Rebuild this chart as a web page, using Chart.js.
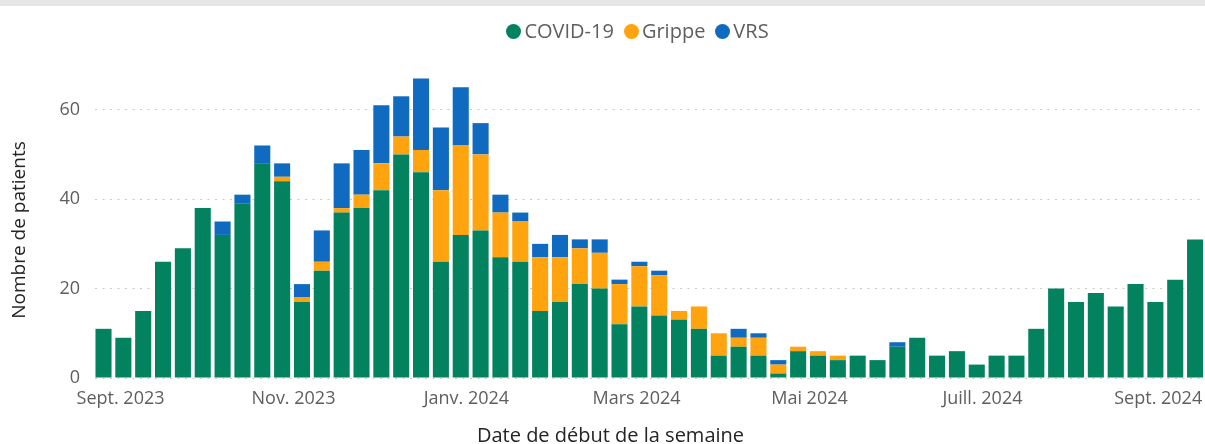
<!DOCTYPE html>
<html>
<head>
<meta charset="utf-8">
<script src="https://cdn.jsdelivr.net/npm/chart.js@4.4.1/dist/chart.umd.min.js"></script>
<style>
  body { margin: 0; background: #fff; font-family: 'Segoe UI', 'Open Sans', sans-serif; }
  #band { height: 6px; background: #e6e6e6; }
  #wrap { position: relative; width: 1205px; height: 438px; }
  #legend { position: absolute; top: 13px; left: 0; width: 1205px; display: flex; justify-content: center;
            padding-left: 70px; box-sizing: border-box; font-size: 20px; color: #605e5c; line-height: 24px; }
  #legend span.item { display: flex; align-items: center; margin: 0 5px; }
  #legend span.dot { width: 15px; height: 15px; border-radius: 50%; margin-right: 3px; }
  #xtitle { position: absolute; top: 423px; left: 8px; width: 1205px; text-align: center;
            font-size: 20px; color: #252423; line-height: 24px; }
  #ytitle { position: absolute; left: -82px; top: 218px; width: 200px; text-align: center;
            font-size: 19px; color: #252423; line-height: 24px; transform: rotate(-90deg); white-space: nowrap; }
</style>
</head>
<body>
<div id="band"></div>
<div id="wrap">
  <canvas id="chart"></canvas>
  <div id="legend"></div>
</div>
<div id="xtitle">Date de début de la semaine</div>
<div id="ytitle">Nombre de patients</div>
<script>
// week start dates
const weeks = [
    "2023-08-26", "2023-09-02", "2023-09-09", "2023-09-16", "2023-09-23", "2023-09-30", "2023-10-07",
    "2023-10-14", "2023-10-21", "2023-10-28", "2023-11-04", "2023-11-11", "2023-11-18", "2023-11-25",
    "2023-12-02", "2023-12-09", "2023-12-16", "2023-12-23", "2023-12-30", "2024-01-06", "2024-01-13",
    "2024-01-20", "2024-01-27", "2024-02-03", "2024-02-10", "2024-02-17", "2024-02-24", "2024-03-02",
    "2024-03-09", "2024-03-16", "2024-03-23", "2024-03-30", "2024-04-06", "2024-04-13", "2024-04-20",
    "2024-04-27", "2024-05-04", "2024-05-11", "2024-05-18", "2024-05-25", "2024-06-01", "2024-06-08",
    "2024-06-15", "2024-06-22", "2024-06-29", "2024-07-06", "2024-07-13", "2024-07-20", "2024-07-27",
    "2024-08-03", "2024-08-10", "2024-08-17", "2024-08-24", "2024-08-31", "2024-09-07", "2024-09-14"
];
const covid = [11, 9, 15, 26, 29, 38, 32, 39, 48, 44, 17, 24, 37, 38, 42, 50, 46, 26, 32, 33,
    27, 26, 15, 17, 21, 20, 12, 16, 14, 13, 11, 5, 7, 5, 1, 6, 5, 4, 5, 4,
    7, 9, 5, 6, 3, 5, 5, 11, 20, 17, 19, 16, 21, 17, 22, 31];
const grippe = [0, 0, 0, 0, 0, 0, 0, 0, 0, 1, 1, 2, 1, 3, 6, 4, 5, 16, 20, 17,
    10, 9, 12, 10, 8, 8, 9, 9, 9, 2, 5, 5, 2, 4, 2, 1, 1, 1, 0, 0,
    0, 0, 0, 0, 0, 0, 0, 0, 0, 0, 0, 0, 0, 0, 0, 0];
const vrs = [0, 0, 0, 0, 0, 0, 3, 2, 4, 3, 3, 7, 10, 10, 13, 9, 16, 14, 13, 7,
    4, 2, 3, 5, 2, 3, 1, 1, 1, 0, 0, 0, 2, 1, 1, 0, 0, 0, 0, 0,
    1, 0, 0, 0, 0, 0, 0, 0, 0, 0, 0, 0, 0, 0, 0, 0];
const tickDates = ["2023-09-01", "2023-11-01", "2024-01-01", "2024-03-01", "2024-05-01", "2024-07-01", "2024-09-01"];
const tickLabels = ["Sept. 2023", "Nov. 2023", "Janv. 2024", "Mars 2024", "Mai 2024", "Juill. 2024", "Sept. 2024"];
const yTicks = [0, 20, 40, 60];

function dayNum(s) {
    const p = s.split("-").map(Number);
    return Date.UTC(p[0], p[1] - 1, p[2]) / 86400000;
}
const xs = weeks.map(dayNum);

const font = "'Segoe UI', 'Open Sans', sans-serif";

const chart = new Chart(document.getElementById("chart"), {
    type: "bar",
    data: {
        datasets: [
            { label: "COVID-19", data: covid.map((v, i) => ({ x: xs[i], y: v })), backgroundColor: "#02825f" },
            { label: "Grippe", data: grippe.map((v, i) => ({ x: xs[i], y: v })), backgroundColor: "#ffa30e" },
            { label: "VRS", data: vrs.map((v, i) => ({ x: xs[i], y: v })), backgroundColor: "#106bc0" },
        ],
    },
    options: {
        responsive: true,
        maintainAspectRatio: false,
        animation: false,
        barPercentage: 0.9,
        categoryPercentage: 0.9,
        layout: { padding: { left: 2, right: 0, top: 59, bottom: 0 } },
        plugins: {
            tooltip: { enabled: false },
            legend: { display: false },
        },
        scales: {
            x: {
                type: "linear",
                stacked: true,
                offset: false,
                min: xs[0] - 3,
                max: xs[xs.length - 1] + 3.5,
                afterBuildTicks: axis => { axis.ticks = tickDates.map(d => ({ value: dayNum(d) })); },
                afterFit: axis => {
                    axis.height = 66;
                    axis.paddingLeft = 0;
                    axis.paddingRight = 0;
                },
                grid: { display: false, drawTicks: false },
                border: { display: false },
                ticks: {
                    autoSkip: false,
                    maxRotation: 0,
                    padding: 10,
                    color: "#605e5c",
                    font: { family: font, size: 18 },
                    callback: (v, i) => tickLabels[i],
                },
            },
            y: {
                stacked: true,
                min: 0,
                max: 70,
                afterBuildTicks: axis => { axis.ticks = yTicks.map(v => ({ value: v })); },
                afterFit: axis => { axis.width = 93; },
                grid: { color: "#cacaca", lineWidth: 1, drawTicks: false },
                border: { display: false, dash: [2, 5.5] },
                ticks: {
                    padding: 15,
                    color: "#605e5c",
                    font: { family: font, size: 18 },
                },
            },
        },
    },
});

// html legend built from the datasets
const legend = document.getElementById("legend");
chart.data.datasets.forEach(ds => {
    const item = document.createElement("span");
    item.className = "item";
    const dot = document.createElement("span");
    dot.className = "dot";
    dot.style.background = ds.backgroundColor;
    item.appendChild(dot);
    item.appendChild(document.createTextNode(ds.label));
    legend.appendChild(item);
});
</script>
</body>
</html>
